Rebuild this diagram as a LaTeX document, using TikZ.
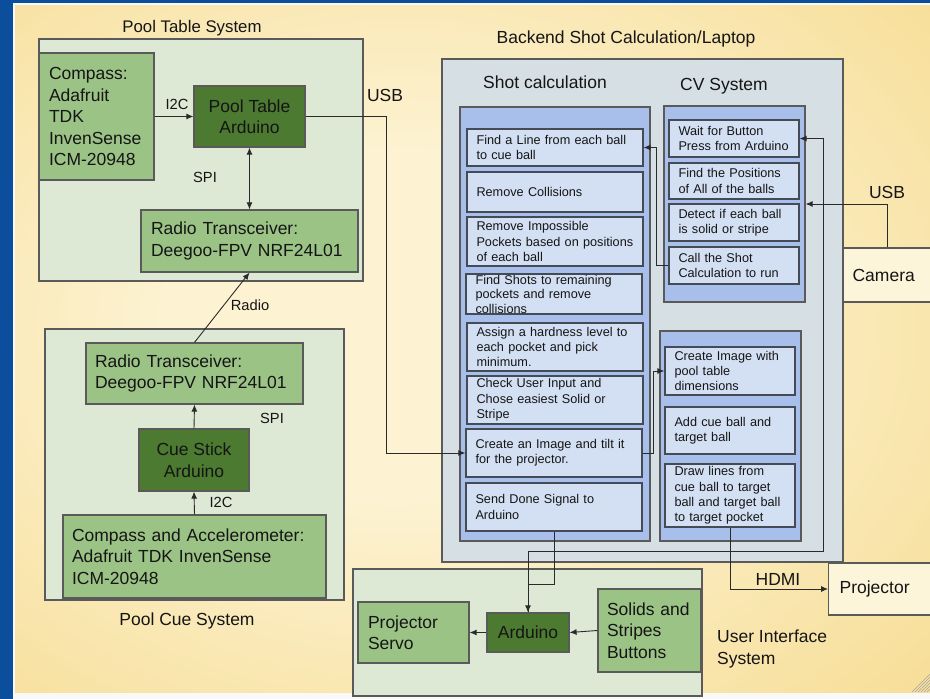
\documentclass[tikz,border=0pt]{standalone}
\usepackage{fontspec}
\setmainfont{Liberation Sans}
\usetikzlibrary{arrows.meta}
\definecolor{frameblue}{HTML}{0B4F9C}
\definecolor{bgcream}{HTML}{FDF3D3}
\definecolor{bgyellow}{HTML}{F4D47C}
\definecolor{sysgreen}{HTML}{DDE8D5}
\definecolor{midgreen}{HTML}{9CC386}
\definecolor{darkgreen}{HTML}{4B7A30}
\definecolor{bgray}{HTML}{D6DFE3}
\definecolor{panelblue}{HTML}{A7BFEA}
\definecolor{stepfill}{HTML}{D3E0F3}
\definecolor{stepline}{HTML}{454B55}
\definecolor{boxline}{HTML}{5A5A5A}
\definecolor{lineblack}{HTML}{2A2A2A}
\definecolor{creambox}{HTML}{FDF5DA}
\definecolor{txt}{HTML}{151515}
\pgfdeclareradialshading{bgshade}{\pgfpoint{-5bp}{2bp}}{color(0bp)=(bgcream); color(12bp)=(bgcream); color(50bp)=(bgyellow); color(80bp)=(bgyellow)}
\newcommand{\fbig}{\fontsize{17.5}{21.5}\selectfont}
\newcommand{\fttl}{\fontsize{16.8}{20}\selectfont}
\newcommand{\fstep}{\fontsize{12.7}{15.3}\selectfont}
\newcommand{\fstepc}{\fontsize{12.7}{14.5}\selectfont}
\newcommand{\flab}{\fontsize{14.7}{17}\selectfont}
\begin{document}
\begin{tikzpicture}[x=1pt,y=-1pt,
  box/.style={draw=boxline, line width=1.2pt, inner sep=0pt, text=txt},
  sys/.style={box, fill=sysgreen},
  gbox/.style={box, fill=midgreen, font=\fbig, align=left, inner xsep=10pt},
  dbox/.style={box, fill=darkgreen, font=\fbig, align=center},
  stepbox/.style={draw=stepline, line width=1.3pt, fill=stepfill, font=\fstep, align=left, inner xsep=9.5pt, inner ysep=0pt, text=txt},
  shotstep/.style={stepbox, minimum width=176, text width=157},
  cvstep/.style={stepbox, minimum width=130, text width=111},
  arr/.style={draw=lineblack, line width=0.9pt, -{Latex[length=7pt,width=6pt]}},
  darr/.style={draw=lineblack, line width=0.9pt, {Latex[length=7pt,width=6pt]}-{Latex[length=7pt,width=6pt]}},
  ln/.style={draw=lineblack, line width=0.9pt},
  lab/.style={font=\flab, inner sep=0pt, text=txt},
  ttl/.style={font=\fbig, inner sep=0pt, text=txt}
]
\useasboundingbox (0,0) rectangle (930,699);
\clip (0,0) rectangle (930,699);
% background
\fill[white!95!gray] (0,0) rectangle (930,699);
\fill[frameblue] (0,0) rectangle (13,699);
\fill[frameblue] (0,0) rectangle (930,3);
\shade[shading=bgshade] (15,5) rectangle (930,692);
\foreach \k in {3,6,...,18} \draw[gray!70, line width=0.4pt] ({930-\k},692) -- (930,{692-\k});

% ---------- Pool Table System ----------
\node[sys, minimum width=324, minimum height=242] (ptsys) at (201,160) {};
\node[ttl, font=\fttl] (ptsysT) at (192,28) {Pool Table System};
\node[gbox, minimum width=115, minimum height=127, text width=95] (compass) at (96.5,116.5) {Compass:\\Adafruit\\TDK\\InvenSense\\ICM-20948};
\node[dbox, minimum width=111, minimum height=61] (ptard) at (249.5,116.5) {Pool Table\\Arduino};
\node[gbox, minimum width=217, minimum height=62, text width=197] (ptradio) at (249.5,241) {Radio Transceiver:\\Deegoo-FPV NRF24L01};

% ---------- Pool Cue System ----------
\node[sys, minimum width=299, minimum height=271] (pcsys) at (194.5,464.5) {};
\node[ttl] (pcsysT) at (187,621) {Pool Cue System};
\node[gbox, inner xsep=9pt, minimum width=217, minimum height=61, text width=199] (cueradio) at (194.5,373.5) {Radio Transceiver:\\Deegoo-FPV NRF24L01};
\node[dbox, minimum width=110, minimum height=62] (cueard) at (194,460) {Cue Stick\\Arduino};
\node[gbox, inner xsep=9pt, minimum width=263, minimum height=83, text width=245] (cuecomp) at (194.5,556.5) {Compass and Accelerometer:\\Adafruit TDK InvenSense\\ICM-20948};

% ---------- Backend ----------
\node[box, fill=bgray, minimum width=401, minimum height=503] (backend) at (642.5,310.5) {};
\node[ttl] (backendT) at (626,39) {Backend Shot Calculation/Laptop};
\node[ttl] (shotT) at (545,82) {Shot calculation};
\node[ttl] (cvT) at (724,86) {CV System};
\node[box, fill=panelblue, minimum width=190, minimum height=434] (shotpanel) at (555,324) {};
\node[box, fill=panelblue, minimum width=141, minimum height=196] (cvpanel) at (734.5,204) {};
\node[box, fill=panelblue, minimum width=141, minimum height=210] (imgpanel) at (730.5,436) {};

\node[shotstep, minimum height=37] (s1) at (555,147.5) {Find a Line from each ball\\to cue ball};
\node[shotstep, minimum height=40] (s2) at (555,192) {Remove Collisions};
\node[shotstep, minimum height=49] (s3) at (555,241.5) {Remove Impossible\\Pockets based on positions\\of each ball};
\node[shotstep, minimum height=40, font=\fstepc] (s4) at (554,294) {Find Shots to remaining\\pockets and remove\\collisions};
\node[shotstep, minimum height=48] (s5) at (555,347) {Assign a hardness level to\\each pocket and pick\\minimum.};
\node[shotstep, minimum height=48] (s6) at (555,400) {Check User Input and\\Chose easiest Solid or\\Stripe};
\node[shotstep, minimum height=48] (s7) at (554,453) {Create an Image and tilt it\\for the projector.};
\node[shotstep, minimum height=48] (s8) at (554,507) {Send Done Signal to\\Arduino};

\node[cvstep, minimum height=37] (c1) at (734,138.5) {Wait for Button\\Press from Arduino};
\node[cvstep, minimum height=36] (c2) at (734,181) {Find the Positions\\of All of the balls};
\node[cvstep, minimum height=37] (c3) at (734,222.5) {Detect if each ball\\is solid or stripe};
\node[cvstep, minimum height=37] (c4) at (734,265.5) {Call the Shot\\Calculation to run};

\node[cvstep, minimum height=48] (i1) at (730,371) {Create Image with\\pool table\\dimensions};
\node[cvstep, minimum height=47] (i2) at (730,430.5) {Add cue ball and\\target ball};
\node[cvstep, minimum height=63] (i3) at (730,495.5) {Draw lines from\\cue ball to target\\ball and target ball\\to target pocket};

\node[box, fill=creambox, anchor=west, minimum width=100, minimum height=54, text width=82, inner xsep=9pt, align=left, font=\fbig] (camera) at (843,275) {Camera};
\node[box, fill=creambox, anchor=west, minimum width=112, minimum height=52, text width=90, inner xsep=11pt, align=left, font=\fbig] (projector) at (828,589) {Projector};

% ---------- User Interface ----------
\node[sys, minimum width=349, minimum height=127] (uisys) at (527.5,632.5) {};
\node[gbox, minimum width=111, minimum height=61, text width=91] (servo) at (413.5,632.5) {Projector\\Servo};
\node[dbox, minimum width=82, minimum height=39] (uiard) at (528,632.5) {Arduino};
\node[gbox, inner xsep=9pt, minimum width=103, minimum height=83, text width=85] (buttons) at (649.5,630.5) {Solids and\\Stripes\\Buttons};
\node[ttl, align=left, anchor=west] (uiT) at (717,649) {User Interface\\System};

% ---------- connectors ----------
\draw[arr] (compass.east) -- (ptard.west);
\draw[darr] (ptard.south) -- (ptradio.north);
\draw[arr] (cueradio.north) -- (ptradio.south);
\draw[arr] (cueard.north) -- (cueradio.south);
\draw[arr] (cuecomp.north) -- (cueard.south);
\draw[arr] (ptard.east) -- ++(81,0) |- (s7.west);
\draw[arr] (c4.west) -- ++(-12,0) |- (s1.east);
\draw[arr] (s7.east) -- ++(11,0) |- (i1.west);
\draw[arr] ([xshift=44pt]camera.north west) |- (cvpanel.east);
\draw[arr] (s8.south) -- ++(0,53) -| (uiard.north);
\draw[arr] (uiard.north) -- ++(0,-61) -| ([xshift=24pt]c1.east) -- (c1.east);
\draw[arr] (i3.south) |- (projector.west);
\draw[arr] (buttons.west) -- (uiard.east);
\draw[arr] (uiard.west) -- (servo.east);

% ---------- labels ----------
\node[lab] (lI2Ca) at (177,104) {I2C};
\node[lab] (lSPIa) at (205,177) {SPI};
\node[lab] (lRadio) at (250,305) {Radio};
\node[ttl] (lUSBa) at (385,95) {USB};
\node[lab] (lSPIb) at (272,418) {SPI};
\node[lab] (lI2Cb) at (221,502) {I2C};
\node[ttl] (lUSBb) at (887,192) {USB};
\node[ttl] (lHDMI) at (778,579) {HDMI};
\end{tikzpicture}
\end{document}
